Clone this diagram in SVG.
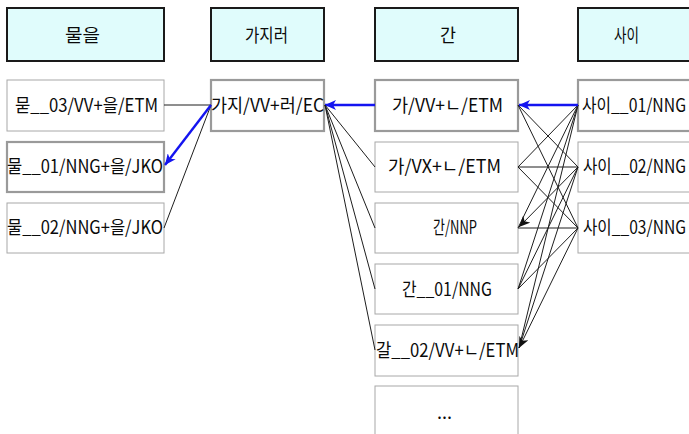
<svg xmlns="http://www.w3.org/2000/svg" width="689" height="434" viewBox="0 0 689 434">
  <style>
    .hdr { fill: #e0fcfc; stroke: #1a1a1a; stroke-width: 2; }
    .box { fill: #ffffff; stroke: #a8a8a8; stroke-width: 1; }
    .sel { fill: #ffffff; stroke: #9a9a9a; stroke-width: 2.2; }
    text { font-family: "Noto Sans CJK KR", "Noto Sans", sans-serif; font-size: 18px; fill: #0a0a0a; }
    .edge { stroke: #1e1e1e; stroke-width: 1; fill: none; }
    .best { stroke: #1414f0; stroke-width: 2.4; fill: none; }
  </style>
  <defs>
    <marker id="arrowBlue" markerUnits="userSpaceOnUse" markerWidth="12" markerHeight="10" refX="11" refY="5" orient="auto">
      <path d="M0,0 L11,5 L0,10 L3,5 Z" fill="#1414f0"/>
    </marker>
    <marker id="arrowBlack" markerUnits="userSpaceOnUse" markerWidth="12" markerHeight="10" refX="11" refY="5" orient="auto">
      <path d="M0,0 L11,5 L0,10 L3,5 Z" fill="#111111"/>
    </marker>
  </defs>
  <rect width="689" height="434" fill="#ffffff"/>

  <!-- column headers -->
  <g id="h-mul"><rect class="hdr" x="7" y="8" width="157" height="53"/><text x="65" y="42" textLength="35" lengthAdjust="spacingAndGlyphs">물을</text></g>
  <g id="h-gaji"><rect class="hdr" x="211" y="8" width="113" height="53"/><text x="245" y="42" textLength="43" lengthAdjust="spacingAndGlyphs">가지러</text></g>
  <g id="h-gan"><rect class="hdr" x="375" y="8" width="143" height="53"/><text x="440" y="42" textLength="16" lengthAdjust="spacingAndGlyphs">간</text></g>
  <g id="h-sai"><rect class="hdr" x="578" y="8" width="130" height="53"/><text x="614" y="42" textLength="25" lengthAdjust="spacingAndGlyphs">사이</text></g>

  <!-- column 1 -->
  <g id="n-mud03"><rect class="box" x="7" y="80" width="157" height="51"/><text x="15" y="112" textLength="143" lengthAdjust="spacingAndGlyphs">묻__03/VV+을/ETM</text></g>
  <g id="n-mul01"><rect class="sel" x="7" y="142" width="157" height="50"/><text x="7" y="173" textLength="156" lengthAdjust="spacingAndGlyphs">물__01/NNG+을/JKO</text></g>
  <g id="n-mul02"><rect class="box" x="7" y="203" width="157" height="50"/><text x="7" y="234" textLength="156" lengthAdjust="spacingAndGlyphs">물__02/NNG+을/JKO</text></g>

  <!-- column 2 -->
  <g id="n-gaji"><rect class="sel" x="211" y="80" width="113" height="51"/><text x="211" y="112" textLength="113" lengthAdjust="spacingAndGlyphs">가지/VV+러/EC</text></g>

  <!-- column 3 -->
  <g id="n-ga-vv"><rect class="sel" x="375" y="80" width="143" height="51"/><text x="392" y="112" textLength="111" lengthAdjust="spacingAndGlyphs">가/VV+ㄴ/ETM</text></g>
  <g id="n-ga-vx"><rect class="box" x="375" y="142" width="143" height="50"/><text x="388" y="173" textLength="113" lengthAdjust="spacingAndGlyphs">가/VX+ㄴ/ETM</text></g>
  <g id="n-gan-nnp"><rect class="box" x="375" y="203" width="143" height="50"/><text x="433" y="234" textLength="44" lengthAdjust="spacingAndGlyphs">간/NNP</text></g>
  <g id="n-gan01"><rect class="box" x="375" y="264" width="143" height="50"/><text x="402" y="296" textLength="90" lengthAdjust="spacingAndGlyphs">간__01/NNG</text></g>
  <g id="n-gal02"><rect class="box" x="375" y="325" width="143" height="51"/><text x="376" y="357" textLength="143" lengthAdjust="spacingAndGlyphs">갈__02/VV+ㄴ/ETM</text></g>
  <g id="n-more"><rect class="box" x="375" y="386" width="143" height="52"/><text x="437" y="419" textLength="15" lengthAdjust="spacingAndGlyphs">...</text></g>

  <!-- column 4 -->
  <g id="n-sai01"><rect class="sel" x="578" y="80" width="130" height="51"/><text x="582" y="112" textLength="104" lengthAdjust="spacingAndGlyphs">사이__01/NNG</text></g>
  <g id="n-sai02"><rect class="box" x="578" y="142" width="130" height="50"/><text x="583" y="173" textLength="103" lengthAdjust="spacingAndGlyphs">사이__02/NNG</text></g>
  <g id="n-sai03"><rect class="box" x="578" y="203" width="130" height="50"/><text x="583" y="234" textLength="103" lengthAdjust="spacingAndGlyphs">사이__03/NNG</text></g>

  <!-- connectors -->
  <g id="connectors">
    <!-- column 1 <-> column 2 -->
    <line class="edge" x1="164" y1="105" x2="211" y2="105"/>
    <line class="edge" x1="211" y1="105" x2="164" y2="228"/>
    <line class="best" x1="211" y1="105" x2="165" y2="165" marker-end="url(#arrowBlue)"/>

    <!-- column 2 <-> column 3 -->
    <line class="best" x1="375" y1="105" x2="325" y2="105" marker-end="url(#arrowBlue)"/>
    <line class="edge" x1="375" y1="167" x2="325" y2="105"/>
    <line class="edge" x1="375" y1="228" x2="325" y2="105"/>
    <line class="edge" x1="375" y1="289" x2="325" y2="105"/>
    <line class="edge" x1="375" y1="350" x2="325" y2="105"/>

    <!-- column 3 <-> column 4 -->
    <line class="edge" x1="578" y1="105" x2="518" y2="167"/>
    <line class="edge" x1="578" y1="105" x2="518" y2="228"/>
    <line class="edge" x1="578" y1="105" x2="518" y2="289"/>
    <line class="edge" x1="578" y1="105" x2="519" y2="348"/>
    <line class="edge" x1="578" y1="167" x2="518" y2="105"/>
    <line class="edge" x1="578" y1="167" x2="518" y2="167"/>
    <line class="edge" x1="578" y1="167" x2="519" y2="227" marker-end="url(#arrowBlack)"/>
    <line class="edge" x1="578" y1="167" x2="518" y2="289"/>
    <line class="edge" x1="578" y1="167" x2="519" y2="348"/>
    <line class="edge" x1="578" y1="228" x2="518" y2="105"/>
    <line class="edge" x1="578" y1="228" x2="518" y2="167"/>
    <line class="edge" x1="578" y1="228" x2="518" y2="228"/>
    <line class="edge" x1="578" y1="228" x2="518" y2="289"/>
    <line class="edge" x1="578" y1="228" x2="519" y2="348" marker-end="url(#arrowBlack)"/>
    <line class="best" x1="578" y1="105" x2="519" y2="105" marker-end="url(#arrowBlue)"/>
  </g>
</svg>
